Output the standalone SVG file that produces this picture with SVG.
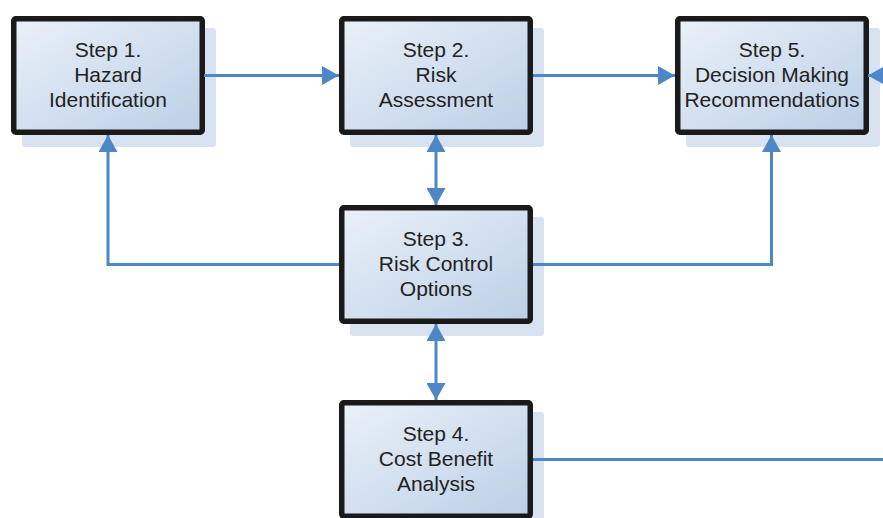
<svg xmlns="http://www.w3.org/2000/svg" width="883" height="518" viewBox="0 0 883 518">
<style>
.shadow{fill:#d9e2f1}
.box{fill:url(#g);stroke:#1a1a1a;stroke-width:5.5}
.t{font-family:"Liberation Sans",Arial,sans-serif;font-size:21px;fill:#222;text-anchor:middle}
.c{fill:none;stroke:#4d87c8;stroke-width:3}
</style>
<defs>
<linearGradient id="g" x1="0" y1="0" x2="1" y2="1">
<stop offset="0" stop-color="#eaf1f9"/>
<stop offset="1" stop-color="#bccfe6"/>
</linearGradient>
<marker id="a" viewBox="0 0 17 19" refX="17" refY="9.5" markerWidth="17" markerHeight="19" markerUnits="userSpaceOnUse" orient="auto-start-reverse">
<path d="M0,0 L17,9.5 L0,19 z" fill="#4d87c8"/>
</marker>
</defs>
<rect width="883" height="518" fill="#fff"/>
<g id="step1">
<rect class="shadow" x="22" y="28" width="194" height="119" rx="3"/>
<rect class="box" x="13.75" y="18.75" width="188.5" height="113.5" rx="2"/>
<text class="t" x="108" y="57">Step 1.</text>
<text class="t" x="108" y="82">Hazard</text>
<text class="t" x="108" y="107">Identification</text>
</g>
<g id="step2">
<rect class="shadow" x="350" y="28" width="194" height="119" rx="3"/>
<rect class="box" x="341.75" y="18.75" width="188.5" height="113.5" rx="2"/>
<text class="t" x="436" y="57">Step 2.</text>
<text class="t" x="436" y="82">Risk</text>
<text class="t" x="436" y="107">Assessment</text>
</g>
<g id="step5">
<rect class="shadow" x="686" y="28" width="194" height="119" rx="3"/>
<rect class="box" x="677.75" y="18.75" width="188.5" height="113.5" rx="2"/>
<text class="t" x="772" y="57">Step 5.</text>
<text class="t" x="772" y="82">Decision Making</text>
<text class="t" x="772" y="107">Recommendations</text>
</g>
<g id="step3">
<rect class="shadow" x="350" y="217" width="194" height="119" rx="3"/>
<rect class="box" x="341.75" y="207.75" width="188.5" height="113.5" rx="2"/>
<text class="t" x="436" y="246">Step 3.</text>
<text class="t" x="436" y="271">Risk Control</text>
<text class="t" x="436" y="296">Options</text>
</g>
<g id="step4">
<rect class="shadow" x="350" y="412" width="194" height="119" rx="3"/>
<rect class="box" x="341.75" y="402.75" width="188.5" height="113.5" rx="2"/>
<text class="t" x="436" y="441">Step 4.</text>
<text class="t" x="436" y="466">Cost Benefit</text>
<text class="t" x="436" y="491">Analysis</text>
</g>
<g id="connectors">
<path class="c" d="M204,75.5 H339" marker-end="url(#a)"/>
<path class="c" d="M533,75.5 H675" marker-end="url(#a)"/>
<path class="c" d="M883,75.5 H868" marker-end="url(#a)"/>
<path class="c" d="M436,135 V205" marker-start="url(#a)" marker-end="url(#a)"/>
<path class="c" d="M339,264.5 H108 V135" marker-end="url(#a)"/>
<path class="c" d="M533,264.5 H771.5 V135" marker-end="url(#a)"/>
<path class="c" d="M436,324 V400" marker-start="url(#a)" marker-end="url(#a)"/>
<path class="c" d="M533,459.5 H883"/>
</g>
</svg>
